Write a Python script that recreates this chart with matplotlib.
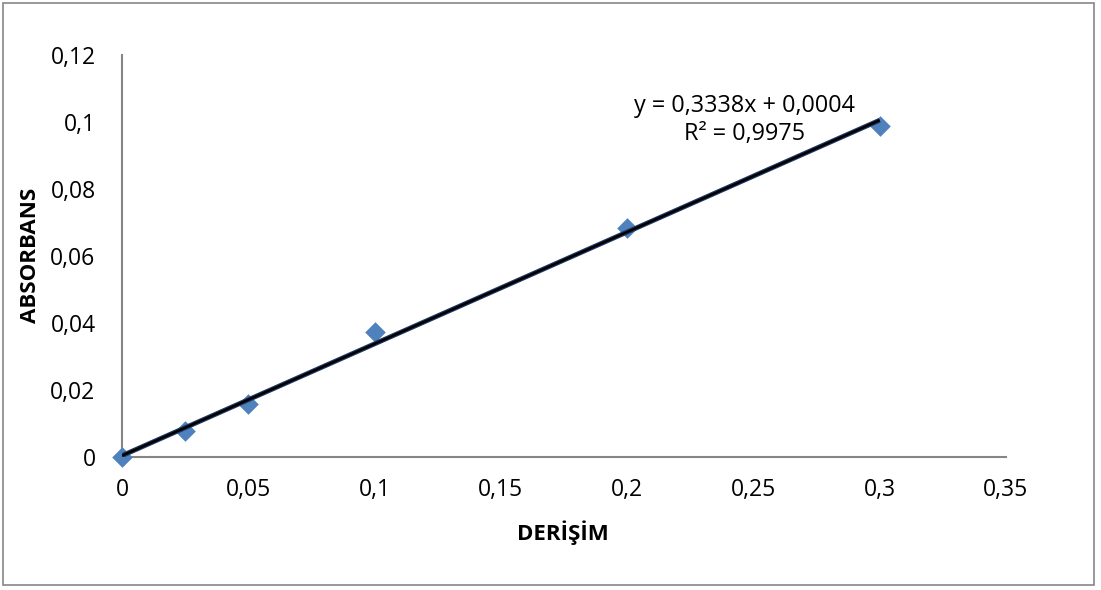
import matplotlib
matplotlib.use("Agg")
import matplotlib.pyplot as plt
from matplotlib.patches import Rectangle
import numpy as np

concentration = [0, 0.025, 0.05, 0.1, 0.2, 0.3]
absorbance = [0.0, 0.0077, 0.0157, 0.0372, 0.0684, 0.0988]
slope, intercept = 0.3338, 0.0004
x_ticks = [0, 0.05, 0.1, 0.15, 0.2, 0.25, 0.3, 0.35]
x_labels = ["0", "0,05", "0,1", "0,15", "0,2", "0,25", "0,3", "0,35"]
y_ticks = [0, 0.02, 0.04, 0.06, 0.08, 0.1, 0.12]
y_labels = ["0", "0,02", "0,04", "0,06", "0,08", "0,1", "0,12"]

plt.rcParams['font.family'] = ['Open Sans', 'DejaVu Sans']

W, H = 1101, 590
fig = plt.figure(figsize=(W/100, H/100), dpi=100)
fig.patches.append(Rectangle((3/W, 1 - 585/H), 1091/W, 582/H, transform=fig.transFigure,
                             fill=False, edgecolor='#868686', linewidth=1.2))
ax = fig.add_axes([122/W, 1 - 457/H, (1006-122)/W, (457-55)/H])
ax.set_xlim(0, 0.35)
ax.set_ylim(0, 0.12)
for s in ['top', 'right']:
    ax.spines[s].set_visible(False)
for s in ['left', 'bottom']:
    ax.spines[s].set_color('#868686')
    ax.spines[s].set_linewidth(1.5)
ax.set_xticks(x_ticks)
ax.set_xticklabels(x_labels)
ax.set_yticks(y_ticks)
ax.set_yticklabels(y_labels)
ax.tick_params(length=0, labelsize=16.5)
ax.tick_params(axis='x', pad=15)
ax.tick_params(axis='y', pad=19)

ax.scatter(concentration, absorbance, marker='D', s=110, color='#4F81BD', zorder=3, clip_on=False, linewidths=0)
xf = np.array([0, 0.3])
ax.plot(xf, slope*xf + intercept, color='#1F3864', linewidth=3.5, zorder=4, solid_capstyle='butt')
ax.plot(xf, slope*xf + intercept, color='black', linewidth=1.8, zorder=5, solid_capstyle='butt')

ax.text(0.704, 0.873, "y = 0,3338x + 0,0004", transform=ax.transAxes, ha='center', va='center', fontsize=16.8)
ax.text(0.704, 0.803, "R² = 0,9975", transform=ax.transAxes, ha='center', va='center', fontsize=16.8)

fig.text(563/W, 1 - 533/H, "DERİŞİM", ha='center', va='center', fontsize=16, fontweight='bold')
fig.text(31/W, 1 - 255/H, "ABSORBANS", ha='center', va='center', rotation=90, fontsize=16, fontweight='bold')

fig.savefig("out.png", dpi=100)
